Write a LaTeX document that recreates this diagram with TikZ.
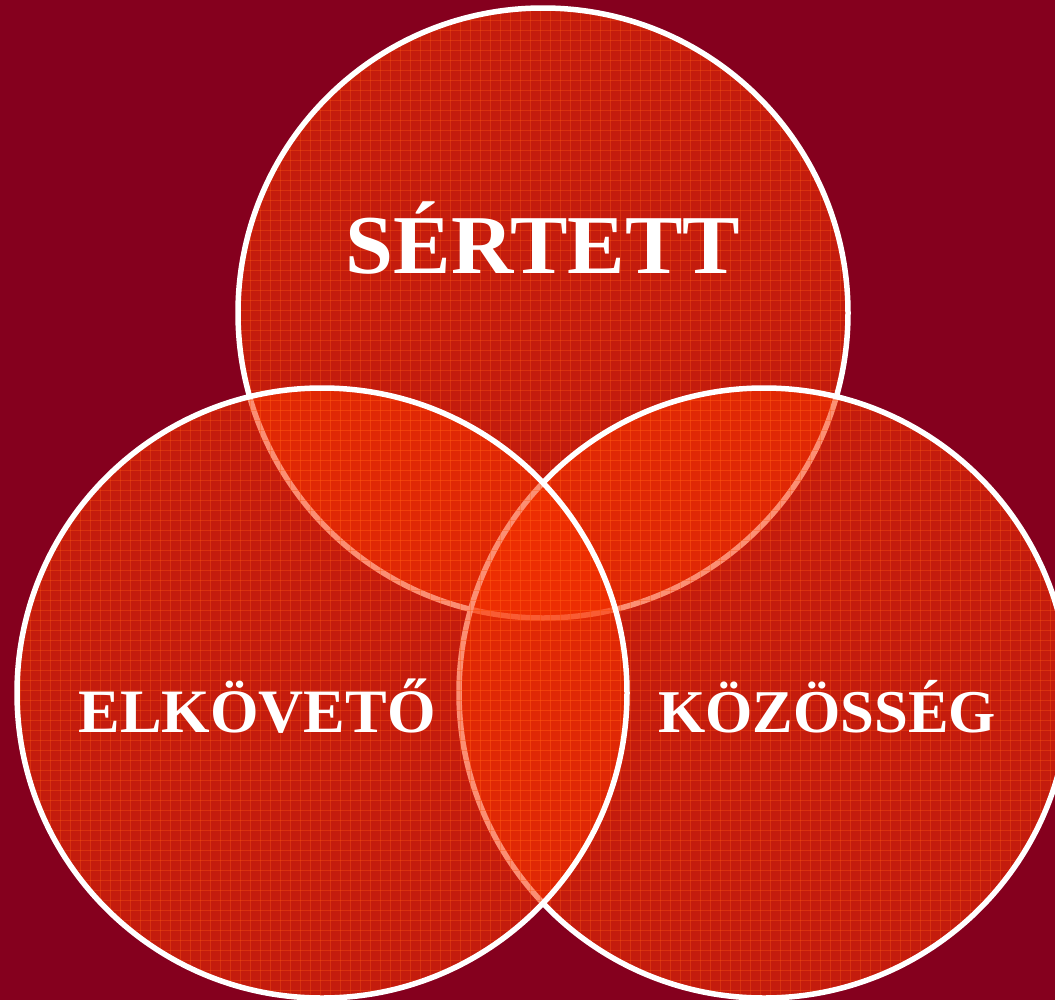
\documentclass[tikz,border=0pt]{standalone}
\usepackage{fontspec}
\setmainfont{Liberation Serif}
\definecolor{bgred}{RGB}{133,0,30}
\definecolor{circred}{RGB}{248,51,0}
\definecolor{gridred}{RGB}{255,90,20}
\tikzset{
  venn/.style={fill=circred, fill opacity=0.55},
  rim/.style={draw=white, line width=5.5bp},
  gridline/.style={draw=gridred, line width=0.9bp, opacity=0.35},
  lbl/.style={text=white, inner sep=0pt, anchor=base, font=\bfseries}
}
\begin{document}
\begin{tikzpicture}[x=1bp, y=-1bp]
\useasboundingbox (0,0) rectangle (1055,1000);
\clip (0,0) rectangle (1055,1000);
\fill[bgred] (0,0) rectangle (1055,1000);
\foreach \cx/\cy/\nm in {543/313/top, 764/693/right, 322/693/left}{
  \coordinate (\nm) at (\cx,\cy);
  \fill[venn] (\nm) circle[radius=305];
  \begin{scope}
    \clip (\nm) circle[radius=305];
    \foreach \g in {0,10,...,1070}{
      \draw[gridline] (\g,0) -- (\g,1000);
    }
    \foreach \g in {0,10,...,1000}{
      \draw[gridline] (0,\g) -- (1070,\g);
    }
  \end{scope}
  \draw[rim] (\nm) circle[radius=305];
}
\node[lbl, font=\bfseries\fontsize{84}{84}\selectfont, xscale=1.03] (sertett) at (543,273) {SÉRTETT};
\node[lbl, font=\bfseries\fontsize{62}{62}\selectfont, xscale=1.01] (elkoveto) at (257,732) {ELKÖVETŐ};
\node[lbl, font=\bfseries\fontsize{61}{61}\selectfont] (kozosseg) at (827,732) {KÖZÖSSÉG};
\end{tikzpicture}
\end{document}
